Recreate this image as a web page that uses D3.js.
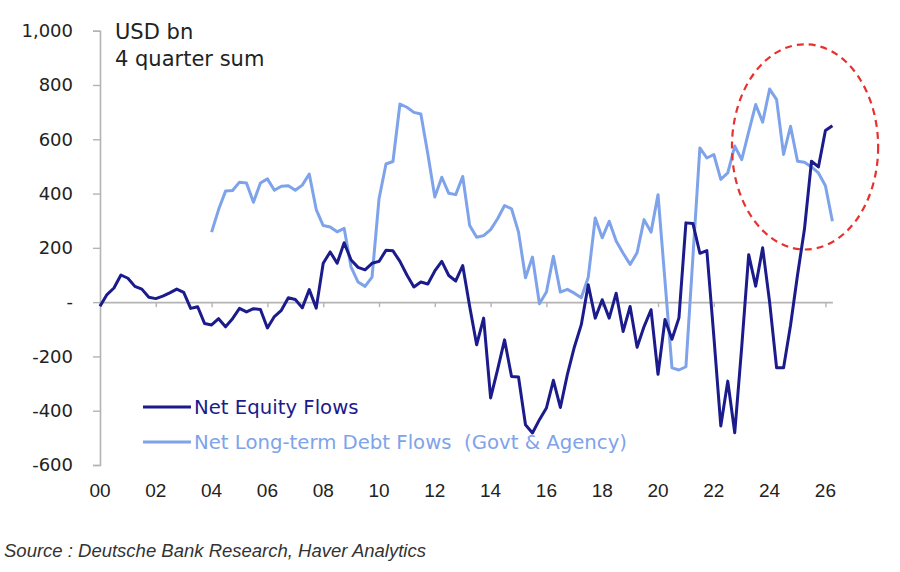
<!DOCTYPE html>
<html>
<head>
<meta charset="utf-8">
<script src="https://cdn.jsdelivr.net/npm/d3@7"></script>
<style>
  html, body { margin: 0; padding: 0; background: #ffffff; }
  svg { display: block; }
</style>
</head>
<body>
<svg id="chart" width="900" height="572"></svg>
<script>
// ---------- DATA (USD bn, 4-quarter sum, quarterly) ----------
const equityStartYear = 0;      // 2000 -> "00"
const debtStartYear = 4;        // 2004 -> "04"
const quarterStep = 0.25;

const netEquityFlows = [
  -15, 28, 52, 100,
  88, 58, 48, 18,
  13, 22, 34, 48,
  36, -23, -17, -79,
  -84, -61, -91, -61,
  -23, -36, -24, -27,
  -95, -53, -30, 16,
  10, -21, 46, -22,
  143, 185, 143, 219,
  155, 128, 119, 143,
  150, 191, 189, 150,
  100, 56, 74, 67,
  115, 150, 98, 78,
  135, -16, -157, -59,
  -353, -249, -139, -274,
  -276, -452, -482, -433,
  -390, -288, -388, -267,
  -166, -83, 64, -59,
  9, -59, 33, -108,
  -16, -166, -90, -28,
  -266, -64, -137, -58,
  292, 290, 180, 190,
  -125, -456, -291, -481,
  -165, 175, 59, 200,
  0, -242, -242, -85,
  100, 270, 519, 498,
  632, 650
];

const netDebtFlows = [
  258, 341, 409, 411,
  442, 439, 368, 439,
  454, 412, 427, 429,
  412, 431, 472, 341,
  282, 277, 259, 272,
  129, 74, 58, 92,
  380, 509, 518, 730,
  718, 699, 693, 546,
  387, 460, 401, 396,
  463, 282, 239, 245,
  267, 307, 356, 344,
  258, 90, 166, -6,
  37, 169, 37, 47,
  33, 16, 92, 310,
  237, 298, 225, 180,
  139, 182, 304, 258,
  396, 77, -242, -250,
  -238, 165, 568, 531,
  544, 452, 476, 575,
  525, 627, 728, 663,
  785, 746, 544, 648,
  519, 515, 498, 476,
  429, 298
];

const yTickValues = [-600, -400, -200, 0, 200, 400, 600, 800, 1000];
const xTickYears = [0, 2, 4, 6, 8, 10, 12, 14, 16, 18, 20, 22, 24, 26];
const xTickLabels = ["00","02","04","06","08","10","12","14","16","18","20","22","24","26"];

const seriesNames = ["Net Equity Flows", "Net Long-term Debt Flows  (Govt & Agency)"];
const unitLines = ["USD bn", "4 quarter sum"];
const sourceText = "Source : Deutsche Bank Research, Haver Analytics";

// highlight ellipse in data units (centre year / value, radii in years / USD bn)
const highlight = { year: 25.27, value: 572, rYears: 2.62, rValue: 378 };

// ---------- STYLE ----------
const equityColor = "#1b1b8c";
const debtColor = "#7ea3ea";
const axisColor = "#b4b4b4";
const textColor = "#222222";

// ---------- SCALES ----------
const svg = d3.select("#chart");
const x = d3.scaleLinear().domain([0, 26.25]).range([100, 832.4]);
const y = d3.scaleLinear().domain([-600, 1000]).range([465, 30.7]);

const equityData = netEquityFlows.map((v, i) => ({ t: equityStartYear + i * quarterStep, v }));
const debtData = netDebtFlows.map((v, i) => ({ t: debtStartYear + i * quarterStep, v }));

// ---------- Y AXIS ----------
const yAxis = d3.axisLeft(y)
  .tickValues(yTickValues)
  .tickSize(7)
  .tickPadding(20)
  .tickFormat(v => v === 0 ? "-" : d3.format(",")(v).replace("\u2212", "-"));

const gy = svg.append("g")
  .attr("transform", `translate(${x(0)},0)`)
  .call(yAxis);
gy.select(".domain").attr("stroke", axisColor).attr("stroke-width", 1.6);
gy.selectAll(".tick line").attr("stroke", axisColor).attr("stroke-width", 1.4);
gy.selectAll(".tick text")
  .attr("fill", textColor)
  .style("font-family", "'DejaVu Sans', sans-serif")
  .style("font-size", "18px");

// ---------- X AXIS (at zero) ----------
const xAxis = d3.axisBottom(x)
  .tickValues(xTickYears)
  .tickSize(5)
  .tickSizeOuter(0)
  .tickFormat("");
const gx = svg.append("g")
  .attr("transform", `translate(0,${y(0)})`)
  .call(xAxis);
gx.select(".domain").attr("stroke", axisColor).attr("stroke-width", 1.6);
gx.selectAll(".tick line").attr("stroke", axisColor).attr("stroke-width", 1.4);

// x labels at bottom
svg.append("g")
  .selectAll("text")
  .data(xTickYears)
  .join("text")
  .attr("x", d => x(d))
  .attr("y", y(-600) + 32)
  .attr("text-anchor", "middle")
  .attr("fill", textColor)
  .style("font-family", "'Liberation Sans', Arial, sans-serif")
  .style("font-size", "19px")
  .text((d, i) => xTickLabels[i]);

// ---------- LINES ----------
const line = d3.line().x(d => x(d.t)).y(d => y(d.v)).curve(d3.curveLinear);

svg.append("path")
  .datum(debtData)
  .attr("fill", "none")
  .attr("stroke", debtColor)
  .attr("stroke-width", 3)
  .attr("stroke-linejoin", "round")
  .attr("d", line);

svg.append("path")
  .datum(equityData)
  .attr("fill", "none")
  .attr("stroke", equityColor)
  .attr("stroke-width", 3)
  .attr("stroke-linejoin", "round")
  .attr("d", line);

// ---------- HIGHLIGHT ELLIPSE ----------
svg.append("ellipse")
  .attr("cx", x(highlight.year))
  .attr("cy", y(highlight.value))
  .attr("rx", x(highlight.rYears) - x(0))
  .attr("ry", y(0) - y(highlight.rValue))
  .attr("fill", "none")
  .attr("stroke", "#e8312f")
  .attr("stroke-width", 2.2)
  .attr("stroke-dasharray", "7,5");

// ---------- UNIT LABEL ----------
svg.append("g")
  .selectAll("text")
  .data(unitLines)
  .join("text")
  .attr("x", 115)
  .attr("y", (d, i) => 39 + i * 27)
  .attr("fill", textColor)
  .style("font-family", "'DejaVu Sans', sans-serif")
  .style("font-size", "21px")
  .text(d => d);

// ---------- LEGEND ----------
const legendColors = [equityColor, debtColor];
const legend = svg.append("g")
  .selectAll("g")
  .data(seriesNames)
  .join("g")
  .attr("transform", (d, i) => `translate(143,${407 + i * 35})`);
legend.append("line")
  .attr("x1", 0).attr("x2", 48)
  .attr("y1", 0).attr("y2", 0)
  .attr("stroke", (d, i) => legendColors[i])
  .attr("stroke-width", 3);
legend.append("text")
  .attr("x", 51)
  .attr("y", 7)
  .attr("fill", (d, i) => legendColors[i])
  .style("font-family", "'DejaVu Sans', sans-serif")
  .style("font-size", "19.7px")
  .style("white-space", "pre")
  .attr("xml:space", "preserve")
  .text(d => d);

// ---------- SOURCE ----------
svg.append("text")
  .attr("x", 4)
  .attr("y", 557)
  .attr("fill", "#333333")
  .style("font-family", "'Liberation Sans', Arial, sans-serif")
  .style("font-style", "italic")
  .style("font-size", "18.5px")
  .text(sourceText);
</script>
</body>
</html>
